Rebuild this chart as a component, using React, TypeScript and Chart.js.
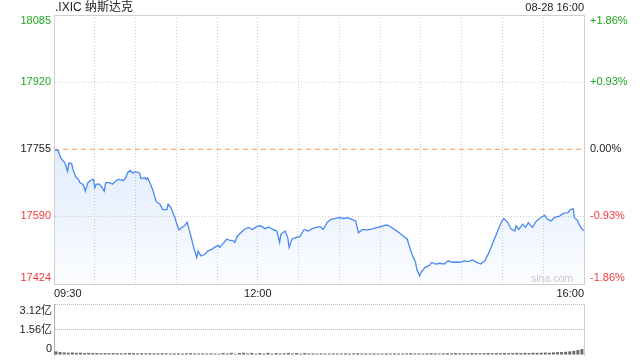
import React, { useEffect, useRef } from 'react';
import { Chart, registerables } from 'chart.js';

Chart.register(...registerables);

const TITLE = '.IXIC 纳斯达克';
const TIMESTAMP = '08-28 16:00';
const WATERMARK = 'sina.com';
const PREV_CLOSE = 17755;
const PRICE_TICKS = [18085, 17920, 17755, 17590, 17424];
const PCT_LABELS = ['+1.86%', '+0.93%', '0.00%', '-0.93%', '-1.86%'];
const GRID_MINUTES = [0, 30, 60, 90, 120, 150, 180, 210, 240, 270, 300, 330, 360, 390];
const TIME_LABELS: Record<number, string> = { 0: '09:30', 150: '12:00', 390: '16:00' };

const MINUTES = [
  0, 3, 5, 8, 10, 11, 13, 14, 16, 18, 19, 21, 22, 23, 25, 27, 29, 30, 31, 33,
  35, 37, 38, 41, 43, 46, 48, 51, 53, 54, 56, 58, 60, 63, 64, 67, 68, 69, 71, 73,
  75, 76, 78, 80, 83, 84, 86, 87, 89, 90, 92, 94, 96, 98, 99, 101, 103, 104, 105, 106,
  108, 111, 113, 116, 118, 121, 122, 124, 127, 129, 132, 133, 135, 140, 143, 146, 149, 152, 155, 158,
  161, 164, 166, 167, 170, 172, 173, 175, 178, 181, 184, 187, 190, 193, 196, 198, 201, 204, 207, 210,
  213, 216, 219, 222, 224, 227, 230, 233, 236, 239, 242, 245, 248, 251, 254, 257, 260, 261, 263, 266,
  267, 269, 270, 273, 276, 278, 281, 284, 287, 290, 293, 296, 299, 302, 305, 308, 311, 314, 317, 320,
  324, 326, 329, 331, 334, 336, 339, 340, 342, 345, 347, 349, 352, 355, 358, 361, 363, 366, 368, 372,
  375, 378, 380, 382, 383, 385, 387, 389, 390,
];
const PRICES = [
  17754, 17752, 17734, 17722, 17701, 17722, 17720, 17705, 17687, 17681, 17673, 17669, 17664, 17652, 17673, 17679, 17681, 17661, 17669, 17670,
  17663, 17652, 17673, 17673, 17669, 17679, 17681, 17678, 17686, 17697, 17703, 17697, 17700, 17697, 17683, 17685, 17681, 17685, 17669, 17652,
  17628, 17624, 17620, 17607, 17607, 17620, 17612, 17603, 17587, 17575, 17557, 17563, 17567, 17576, 17563, 17538, 17511, 17501, 17489, 17505,
  17493, 17497, 17505, 17509, 17514, 17519, 17514, 17522, 17534, 17532, 17530, 17526, 17542, 17558, 17563, 17558, 17565, 17567, 17560, 17564,
  17558, 17554, 17526, 17546, 17554, 17538, 17514, 17534, 17538, 17541, 17558, 17554, 17560, 17563, 17565, 17558, 17575, 17583, 17585, 17587,
  17585, 17587, 17583, 17579, 17550, 17558, 17557, 17558, 17561, 17564, 17567, 17569, 17564, 17557, 17550, 17542, 17534, 17522, 17501, 17477,
  17460, 17444, 17452, 17465, 17469, 17477, 17473, 17475, 17473, 17481, 17477, 17478, 17477, 17481, 17479, 17483, 17477, 17473, 17481, 17501,
  17534, 17550, 17575, 17585, 17575, 17560, 17554, 17567, 17558, 17571, 17563, 17575, 17563, 17579, 17587, 17593, 17583, 17579, 17587, 17591,
  17598, 17599, 17607, 17609, 17587, 17581, 17567, 17557, 17556,
];

const VOL_TICKS = [3.12, 1.56, 0];
const VOL_LABELS = ['3.12亿', '1.56亿', '0'];
const VOLUMES = [
  0.22, 0.18, 0.16, 0.14, 0.15, 0.13, 0.14, 0.12, 0.13, 0.12,
  0.12, 0.11, 0.12, 0.11, 0.12, 0.11, 0.10, 0.11, 0.12, 0.11,
  0.10, 0.11, 0.10, 0.11, 0.10, 0.10, 0.11, 0.10, 0.09, 0.10,
  0.10, 0.09, 0.10, 0.11, 0.10, 0.09, 0.10, 0.09, 0.10, 0.09,
  0.08, 0.12, 0.09, 0.13, 0.08, 0.12, 0.14, 0.09, 0.13, 0.08,
  0.12, 0.09, 0.13, 0.08, 0.12, 0.09, 0.10, 0.13, 0.09, 0.12,
  0.08, 0.12, 0.09, 0.10, 0.09, 0.10, 0.09, 0.09, 0.10, 0.09,
  0.09, 0.10, 0.09, 0.10, 0.11, 0.09, 0.10, 0.09, 0.10, 0.09,
  0.09, 0.10, 0.09, 0.10, 0.09, 0.09, 0.10, 0.11, 0.09, 0.10,
  0.09, 0.10, 0.11, 0.10, 0.09, 0.10, 0.11, 0.10, 0.12, 0.10,
  0.11, 0.10, 0.12, 0.11, 0.10, 0.11, 0.12, 0.11, 0.12, 0.11,
  0.12, 0.11, 0.12, 0.13, 0.12, 0.13, 0.12, 0.14, 0.13, 0.14,
  0.15, 0.14, 0.16, 0.17, 0.18, 0.20, 0.22, 0.25, 0.30, 0.36,
];
const VOL_TIMES = VOLUMES.map((_, i) => String(i));

const FONT = '"Liberation Sans", Arial, "Noto Sans CJK SC", sans-serif';
const GREEN = '#1fa51f';
const RED = '#f03a3a';
const DARK = '#222';
const FRAME = '#cfcfcf';

function labelColor(i: number, mid: number) {
  if (i < mid) return GREEN;
  if (i > mid) return RED;
  return DARK;
}

const mainPlugin = {
  id: 'mainDecor',
  afterDraw(chart: any) {
    const { ctx, chartArea } = chart;
    const { left, right, top, bottom } = chartArea;
    ctx.save();
    ctx.strokeStyle = FRAME;
    ctx.lineWidth = 1;
    ctx.setLineDash([]);
    ctx.strokeRect(Math.round(left) + 0.5, Math.round(top) + 0.5, Math.round(right - left), Math.round(bottom - top));
    ctx.fillStyle = '#222';
    ctx.textBaseline = 'middle';
    ctx.font = `12px ${FONT}`;
    ctx.textAlign = 'left';
    ctx.fillText(TITLE, left + 1, 7.5);
    ctx.font = `11px ${FONT}`;
    ctx.textAlign = 'right';
    ctx.fillText(TIMESTAMP, right, 7.5);
    ctx.fillStyle = '#c9c9c9';
    ctx.font = `10.5px ${FONT}`;
    ctx.textAlign = 'right';
    ctx.fillText(WATERMARK, right - 11, bottom - 5);
    const ys = chart.scales.y;
    ctx.font = `11px ${FONT}`;
    PRICE_TICKS.forEach((v, i) => {
      let py = ys.getPixelForValue(v);
      if (py < top + 6) py = top + 6;
      if (py > bottom - 6) py = bottom - 6;
      ctx.fillStyle = labelColor(i, 2);
      ctx.textAlign = 'right';
      ctx.fillText(String(v), left - 3, py);
      ctx.textAlign = 'left';
      ctx.fillText(PCT_LABELS[i], right + 6, py);
    });
    ctx.restore();
  },
};

const volPlugin = {
  id: 'volDecor',
  afterDraw(chart: any) {
    const { ctx, chartArea } = chart;
    const { left, top, bottom } = chartArea;
    ctx.save();
    const ys = chart.scales.y;
    ctx.font = `11px ${FONT}`;
    ctx.fillStyle = '#222';
    ctx.textBaseline = 'middle';
    ctx.textAlign = 'right';
    VOL_TICKS.forEach((v, i) => {
      let py = ys.getPixelForValue(v);
      if (py < top + 7) py = top + 7;
      if (py > bottom - 6) py = bottom - 6;
      ctx.fillText(VOL_LABELS[i], left - 2, py);
    });
    ctx.restore();
  },
};

export default function App() {
  const mainRef = useRef<HTMLCanvasElement>(null);
  const volRef = useRef<HTMLCanvasElement>(null);

  useEffect(() => {
    const priceData = MINUTES.map((m, i) => ({ x: m, y: PRICES[i] }));
    const prevData = [
      { x: GRID_MINUTES[0], y: PREV_CLOSE },
      { x: GRID_MINUTES[GRID_MINUTES.length - 1], y: PREV_CLOSE },
    ];
    const main = new Chart(mainRef.current as HTMLCanvasElement, {
      type: 'line',
      data: {
        datasets: [
          {
            data: priceData,
            borderColor: '#4889f0',
            borderWidth: 1.3,
            pointRadius: 0,
            tension: 0,
            fill: 'start',
            order: 0,
            backgroundColor: (c: any) => {
              const { ctx, chartArea, scales } = c.chart;
              if (!chartArea) return 'rgba(74,140,240,0.1)';
              const y0 = scales.y.getPixelForValue(PREV_CLOSE);
              const g = ctx.createLinearGradient(0, y0, 0, chartArea.bottom);
              g.addColorStop(0, 'rgba(74,140,240,0.17)');
              g.addColorStop(1, 'rgba(74,140,240,0.02)');
              return g;
            },
          },
          {
            data: prevData,
            borderColor: '#f29a5c',
            borderWidth: 1,
            borderDash: [5, 4],
            pointRadius: 0,
            fill: false,
            order: 1,
          },
        ],
      },
      options: {
        responsive: false,
        animation: false,
        events: [],
        layout: { padding: { top: 15, left: 0, right: 0, bottom: 0 } },
        plugins: { legend: { display: false }, tooltip: { enabled: false } },
        scales: {
          x: {
            type: 'linear',
            position: 'bottom',
            min: 0,
            max: 390,
            afterBuildTicks: (axis: any) => {
              axis.ticks = GRID_MINUTES.map((v) => ({ value: v }));
            },
            afterFit: (axis: any) => {
              axis.height = 16;
            },
            ticks: {
              autoSkip: false,
              maxRotation: 0,
              align: 'inner',
              padding: 3,
              color: '#222',
              font: { family: FONT, size: 11 },
              callback: (v: any) => TIME_LABELS[Number(v)] ?? '',
            },
            grid: {
              drawTicks: false,
              color: (c: any) =>
                c.tick && (c.tick.value === 0 || c.tick.value === 390) ? 'rgba(0,0,0,0)' : '#cfcfcf',
            },
            border: { display: true, color: FRAME, dash: [1, 2] },
          },
          y: {
            position: 'left',
            min: PRICE_TICKS[PRICE_TICKS.length - 1],
            max: PRICE_TICKS[0],
            afterBuildTicks: (axis: any) => {
              axis.ticks = PRICE_TICKS.map((v) => ({ value: v }));
            },
            afterFit: (axis: any) => {
              axis.width = 54;
            },
            ticks: { display: false },
            grid: {
              drawTicks: false,
              color: (c: any) =>
                c.tick && (c.tick.value === PRICE_TICKS[1] || c.tick.value === PRICE_TICKS[3])
                  ? '#cfcfcf'
                  : 'rgba(0,0,0,0)',
            },
            border: { display: true, color: FRAME, dash: [1, 2] },
          },
          y2: {
            position: 'right',
            min: PRICE_TICKS[PRICE_TICKS.length - 1],
            max: PRICE_TICKS[0],
            afterFit: (axis: any) => {
              axis.width = 56;
            },
            ticks: { display: false },
            grid: { display: false },
            border: { display: true, color: FRAME },
          },
        },
      } as any,
      plugins: [mainPlugin],
    });

    const vol = new Chart(volRef.current as HTMLCanvasElement, {
      type: 'bar',
      data: {
        labels: VOL_TIMES,
        datasets: [
          {
            data: VOLUMES,
            backgroundColor: '#666666',
            barPercentage: 1,
            categoryPercentage: 0.72,
          },
        ],
      },
      options: {
        responsive: false,
        animation: false,
        events: [],
        layout: { padding: { top: 4, left: 0, right: 0, bottom: 5 } },
        plugins: { legend: { display: false }, tooltip: { enabled: false } },
        scales: {
          x: { display: false },
          y: {
            position: 'left',
            min: 0,
            max: VOL_TICKS[0],
            afterBuildTicks: (axis: any) => {
              axis.ticks = VOL_TICKS.map((v) => ({ value: v }));
            },
            afterFit: (axis: any) => {
              axis.width = 54;
            },
            ticks: { display: false },
            grid: {
              drawTicks: false,
              color: (c: any) => (c.tick && c.tick.value > 0 ? '#bdbdbd' : 'rgba(0,0,0,0)'),
            },
            border: { display: true, color: '#b0b0b0', dash: [1, 1] },
          },
          y2: {
            position: 'right',
            min: 0,
            max: VOL_TICKS[0],
            afterFit: (axis: any) => {
              axis.width = 56;
            },
            ticks: { display: false },
            grid: { display: false },
            border: { display: true, color: '#cfcfcf' },
          },
        },
      } as any,
      plugins: [volPlugin],
    });

    return () => {
      main.destroy();
      vol.destroy();
    };
  }, []);

  return (
    <div style={{ position: 'absolute', left: 0, top: 0, width: 640, height: 360, background: '#fff' }}>
      <canvas ref={mainRef} width={640} height={300} style={{ position: 'absolute', left: 0, top: 0 }} />
      <canvas ref={volRef} width={640} height={60} style={{ position: 'absolute', left: 0, top: 300 }} />
    </div>
  );
}
